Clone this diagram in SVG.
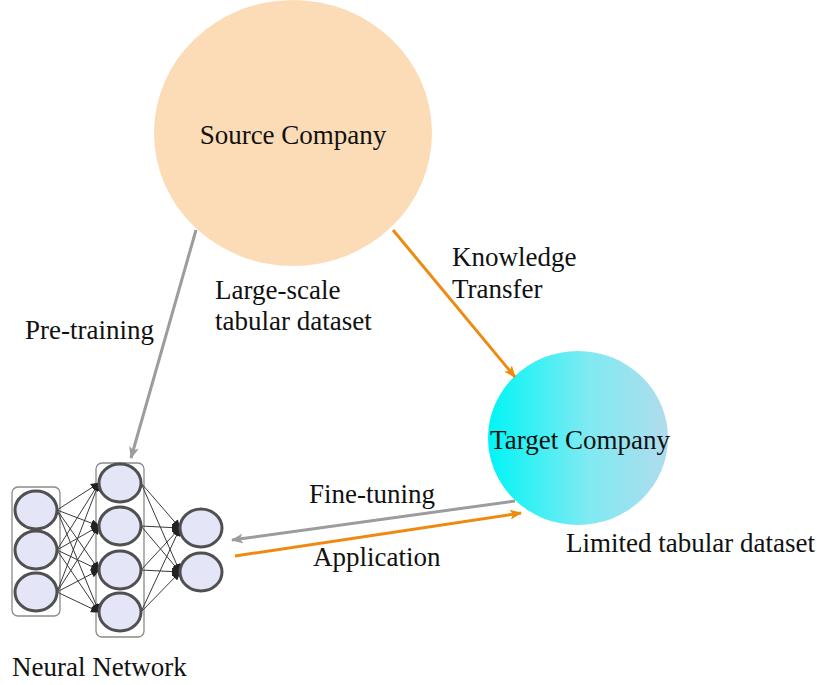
<svg xmlns="http://www.w3.org/2000/svg" width="817" height="685" viewBox="0 0 817 685">
<style>
.t{font-family:"Liberation Serif","Times New Roman",serif;font-size:27px;fill:#111}
.nn{fill:#E4E6F8;stroke:#505050;stroke-width:3}
.box{fill:none;stroke:#8a8a8a;stroke-width:1.3}
.edge{stroke:#3a3a3a;stroke-width:1;marker-end:url(#nnArrow)}
.gray{stroke:#9c9c9c;stroke-width:3;fill:none;marker-end:url(#grayArrow)}
.orange{stroke:#EE8A10;stroke-width:3;fill:none;marker-end:url(#orangeArrow)}
</style>
<defs>
<linearGradient id="tgt" x1="0" y1="0" x2="1" y2="0">
<stop offset="0" stop-color="#00F5F5"/>
<stop offset="0.55" stop-color="#7EEAF2"/>
<stop offset="1" stop-color="#B0DCEC"/>
</linearGradient>
<marker id="grayArrow" markerWidth="12" markerHeight="10" refX="11" refY="5" orient="auto" markerUnits="userSpaceOnUse">
<path d="M0,0 L12,5 L0,10 L3,5 Z" fill="#9c9c9c"/>
</marker>
<marker id="orangeArrow" markerWidth="12" markerHeight="10" refX="11" refY="5" orient="auto" markerUnits="userSpaceOnUse">
<path d="M0,0 L12,5 L0,10 L3,5 Z" fill="#EE8A10"/>
</marker>
<marker id="nnArrow" markerWidth="9" markerHeight="8" refX="8" refY="4" orient="auto" markerUnits="userSpaceOnUse">
<path d="M0,0 L9,4 L0,8 Z" fill="#222"/>
</marker>
</defs>

<g id="source-company">
<ellipse cx="293" cy="133" rx="139" ry="133" fill="#FCDCB6"/>
<text class="t" x="293" y="144" text-anchor="middle">Source Company</text>
</g>

<g id="target-company">
<ellipse cx="578" cy="438" rx="90" ry="87" fill="url(#tgt)"/>
<text class="t" x="580" y="449" text-anchor="middle">Target Company</text>
</g>

<g id="neural-network">
<rect class="box" x="12" y="487" width="48" height="129" rx="6"/>
<rect class="box" x="96" y="463" width="48" height="174" rx="6"/>
<g id="nn-edges">
<line class="edge" x1="57" y1="510" x2="99" y2="483"/>
<line class="edge" x1="57" y1="510" x2="99" y2="526"/>
<line class="edge" x1="57" y1="510" x2="99" y2="570"/>
<line class="edge" x1="57" y1="510" x2="99" y2="612"/>
<line class="edge" x1="57" y1="550" x2="99" y2="483"/>
<line class="edge" x1="57" y1="550" x2="99" y2="526"/>
<line class="edge" x1="57" y1="550" x2="99" y2="570"/>
<line class="edge" x1="57" y1="550" x2="99" y2="612"/>
<line class="edge" x1="57" y1="592" x2="99" y2="483"/>
<line class="edge" x1="57" y1="592" x2="99" y2="526"/>
<line class="edge" x1="57" y1="592" x2="99" y2="570"/>
<line class="edge" x1="57" y1="592" x2="99" y2="612"/>
<line class="edge" x1="141" y1="483" x2="180" y2="528"/>
<line class="edge" x1="141" y1="483" x2="180" y2="572"/>
<line class="edge" x1="141" y1="526" x2="180" y2="528"/>
<line class="edge" x1="141" y1="526" x2="180" y2="572"/>
<line class="edge" x1="141" y1="570" x2="180" y2="528"/>
<line class="edge" x1="141" y1="570" x2="180" y2="572"/>
<line class="edge" x1="141" y1="612" x2="180" y2="528"/>
<line class="edge" x1="141" y1="612" x2="180" y2="572"/>
</g>
<ellipse class="nn" cx="36" cy="510" rx="21" ry="19"/>
<ellipse class="nn" cx="36" cy="550" rx="21" ry="19"/>
<ellipse class="nn" cx="36" cy="592" rx="21" ry="19"/>
<ellipse class="nn" cx="120" cy="483" rx="21" ry="19"/>
<ellipse class="nn" cx="120" cy="526" rx="21" ry="19"/>
<ellipse class="nn" cx="120" cy="570" rx="21" ry="19"/>
<ellipse class="nn" cx="120" cy="612" rx="21" ry="19"/>
<ellipse class="nn" cx="201" cy="528" rx="21" ry="19"/>
<ellipse class="nn" cx="201" cy="572" rx="21" ry="19"/>
<text class="t" x="12" y="676">Neural Network</text>
</g>

<g id="connectors">
<line class="gray" x1="196" y1="230" x2="131" y2="458"/>
<line class="orange" x1="393" y1="230" x2="515" y2="377"/>
<line class="gray" x1="515" y1="501" x2="232" y2="540"/>
<line class="orange" x1="235" y1="556" x2="521" y2="513"/>
</g>

<g id="labels">
<text class="t" x="452" y="266">Knowledge</text>
<text class="t" x="452" y="298">Transfer</text>
<text class="t" x="215" y="299">Large-scale</text>
<text class="t" x="215" y="330">tabular dataset</text>
<text class="t" x="25" y="339">Pre-training</text>
<text class="t" x="309" y="503">Fine-tuning</text>
<text class="t" x="313" y="566">Application</text>
<text class="t" x="566" y="552">Limited tabular dataset</text>
</g>
</svg>
